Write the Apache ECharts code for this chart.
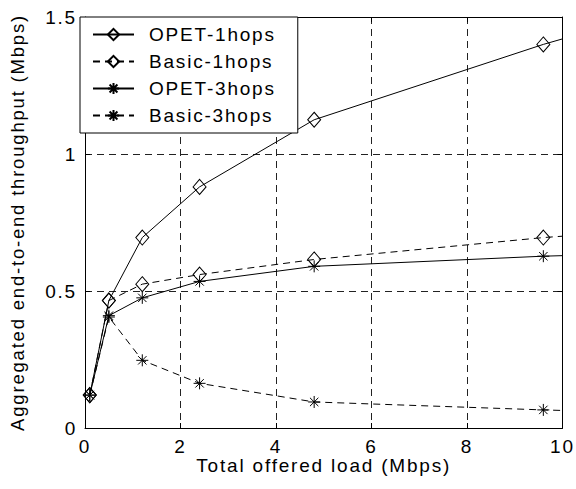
<!DOCTYPE html>
<html>
<head>
<meta charset="utf-8">
<script src="https://cdn.jsdelivr.net/npm/echarts@6/dist/echarts.min.js"></script>
<style>
  html, body { margin: 0; padding: 0; background: #fff; }
  #root { width: 576px; height: 489px; }
  /* the printed figure has wide letter spacing */
  #root text { letter-spacing: 1.8px; }
</style>
</head>
<body>
<div id="root"></div>
<script>
// offered load (Mbps); last entry only carries the line to the right border
const offeredLoad = [0.1, 0.5, 1.2, 2.4, 4.8, 9.6, 10];
const opet1hops  = [0.12, 0.465, 0.695, 0.88, 1.125, 1.40, 1.42];
const basic1hops = [0.12, 0.465, 0.525, 0.56, 0.615, 0.695, 0.70];
const opet3hops  = [0.12, 0.41, 0.475, 0.535, 0.59, 0.627, 0.629];
const basic3hops = [0.12, 0.405, 0.247, 0.163, 0.095, 0.066, 0.064];
const seriesNames = ['OPET-1hops', 'Basic-1hops', 'OPET-3hops', 'Basic-3hops'];

const font = 'Liberation Sans, Arial, Helvetica, sans-serif';
const starPath = 'path://M0 6H12M6 0V12M1.8 1.8L10.2 10.2M10.2 1.8L1.8 10.2';

function toPoints(ys) {
  const last = offeredLoad.length - 1;
  return offeredLoad.map((x, i) => i === last ? { value: [x, ys[i]], symbol: 'none' } : [x, ys[i]]);
}

function makeSeries(name, ys, symbol, size, dashed) {
  return {
    name: name,
    type: 'line',
    data: toPoints(ys),
    symbol: symbol,
    symbolSize: size,
    showAllSymbol: true,
    animation: false,
    lineStyle: { color: '#000', width: 1, type: dashed ? [7, 5] : 'solid' },
    itemStyle: { color: 'none', borderColor: '#000', borderWidth: 1 }
  };
}

const chart = echarts.init(document.getElementById('root'), null, { renderer: 'svg' });

const axisCommon = {
  axisLine: { show: true, onZero: false, lineStyle: { color: '#000', width: 1 } },
  axisTick: { show: true, inside: true, length: 5, lineStyle: { color: '#000' } },
  axisLabel: { color: '#000', fontSize: 19, fontFamily: font },
  nameTextStyle: { color: '#000', fontSize: 19, fontFamily: font }
};

const option = {
  backgroundColor: '#fff',
  animation: false,
  grid: { left: 80, right: 13, top: 17, bottom: 61 },
  legend: {
    data: seriesNames,
    orient: 'vertical',
    left: 80,
    top: 17,
    itemWidth: 41,
    itemHeight: 14,
    itemGap: 8,
    padding: [8, 40, 8, 12],
    backgroundColor: '#fff',
    borderColor: '#000',
    borderWidth: 1,
    borderRadius: 0,
    textStyle: { color: '#000', fontSize: 19, fontFamily: font, padding: [0, 0, 0, 10] }
  },
  xAxis: [
    Object.assign({}, axisCommon, {
      type: 'value', min: 0, max: 10, interval: 2,
      name: 'Total offered load (Mbps)', nameLocation: 'middle', nameGap: 28,
      nameMoveOverlap: false,
      axisLabel: Object.assign({}, axisCommon.axisLabel, { margin: 9 }),
      splitLine: { show: true, lineStyle: { color: '#222', width: 1, type: [7, 5] } }
    }),
    Object.assign({}, axisCommon, {
      type: 'value', min: 0, max: 10, interval: 2, position: 'top',
      axisLabel: { show: false }, splitLine: { show: false }
    })
  ],
  yAxis: [
    Object.assign({}, axisCommon, {
      type: 'value', min: 0, max: 1.5, interval: 0.5,
      name: 'Aggregated end-to-end throughput (Mbps)', nameLocation: 'middle', nameGap: 58,
      nameMoveOverlap: false,
      nameTextStyle: Object.assign({}, axisCommon.nameTextStyle, { fontSize: 18.5 }),
      axisLabel: Object.assign({}, axisCommon.axisLabel, { margin: 8 }),
      splitLine: { show: true, lineStyle: { color: '#222', width: 1, type: [7, 5] } }
    }),
    Object.assign({}, axisCommon, {
      type: 'value', min: 0, max: 1.5, interval: 0.5, position: 'right',
      axisLabel: { show: false }, splitLine: { show: false }
    })
  ],
  series: [
    makeSeries(seriesNames[0], opet1hops, 'diamond', [13, 15], false),
    makeSeries(seriesNames[1], basic1hops, 'diamond', [13, 15], true),
    makeSeries(seriesNames[2], opet3hops, starPath, 12, false),
    makeSeries(seriesNames[3], basic3hops, starPath, 12, true)
  ]
};

chart.setOption(option);
window.addEventListener('resize', chart.resize);
</script>
</body>
</html>
